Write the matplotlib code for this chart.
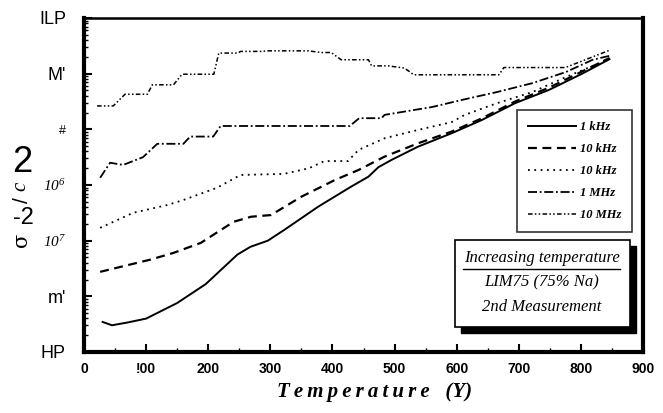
import matplotlib
matplotlib.use("Agg")
import matplotlib.pyplot as plt
import numpy as np
from matplotlib.patches import Rectangle
from matplotlib.lines import Line2D

plt.rcParams["mathtext.fontset"] = "custom"
plt.rcParams["mathtext.it"] = "Liberation Serif:italic"
plt.rcParams["mathtext.rm"] = "Liberation Serif:italic"

# temperature (x) and log10 of sigma^-2/c^2
t_1khz = [30, 45, 70, 100, 150, 196, 247, 268, 296, 322, 377, 430, 458, 474,
          495, 538, 592, 641, 694, 749, 802, 846]
e_1khz = [-8.46, -8.52, -8.47, -8.40, -8.12, -7.78, -7.25, -7.11, -7.00, -6.81,
          -6.39, -6.03, -5.85, -5.68, -5.55, -5.31, -5.07, -4.83, -4.53, -4.29,
          -4.00, -3.74]

t_10khz = [26, 107, 144, 188, 241, 269, 301, 350, 404, 442, 484, 538, 592, 641,
           694, 749, 802, 846]
e_10khz = [-7.56, -7.34, -7.22, -7.04, -6.66, -6.57, -6.54, -6.21, -5.91, -5.73,
           -5.49, -5.25, -5.04, -4.80, -4.50, -4.25, -3.96, -3.72]

t_100khz = [26, 79, 134, 160, 214, 252, 322, 362, 387, 425, 442, 484, 538, 592,
            613, 665, 722, 776, 830, 846]
e_100khz = [-6.77, -6.50, -6.36, -6.27, -6.05, -5.82, -5.80, -5.70, -5.57, -5.57,
            -5.37, -5.16, -5.01, -4.87, -4.74, -4.53, -4.33, -4.06, -3.81, -3.72]

t_1mhz = [26, 42, 63, 95, 118, 160, 171, 208, 220, 428, 443, 479, 484, 560, 613,
          665, 722, 776, 819, 846]
e_1mhz = [-5.87, -5.60, -5.64, -5.50, -5.26, -5.26, -5.13, -5.13, -4.94, -4.94,
          -4.80, -4.80, -4.74, -4.60, -4.46, -4.33, -4.17, -3.97, -3.75, -3.68]

t_10mhz = [21, 47, 66, 102, 110, 144, 158, 209, 217, 248, 252, 285, 296, 361,
           382, 398, 414, 458, 463, 490, 516, 531, 668, 676, 775, 846]
e_10mhz = [-4.58, -4.58, -4.37, -4.37, -4.20, -4.20, -4.01, -4.01, -3.63, -3.63,
           -3.60, -3.60, -3.59, -3.59, -3.62, -3.62, -3.75, -3.75, -3.86, -3.86,
           -3.90, -4.02, -4.02, -3.89, -3.89, -3.58]

labels = ["1 kHz", "10 kHz", "10 kHz", "1 MHz", "10 MHz"]
ytick_vals = [1e-9, 1e-8, 1e-7, 1e-6, 1e-5, 1e-4, 1e-3]
ytick_text = ["HP", "m'", "$10^{7}$", "$10^{6}$", "#", "M'", "ILP"]
xtick_vals = [0, 100, 200, 300, 400, 500, 600, 700, 800, 900]
xtick_text = ["0", "!00", "200", "300", "400", "500", "600", "700", "800", "900"]

fig = plt.figure(figsize=(6.63, 4.13), dpi=100)
ax = fig.add_axes([84 / 663, 61 / 413, 559 / 663, 334 / 413])

series = [
    (t_1khz, e_1khz, "-", 1.4),
    (t_10khz, e_10khz, (0, (4, 2.5)), 1.6),
    (t_100khz, e_100khz, (0, (1, 2.5)), 1.3),
    (t_1mhz, e_1mhz, (0, (5, 1.5, 1, 1.5)), 1.3),
    (t_10mhz, e_10mhz, (0, (3, 1.5, 1, 1.5, 1, 1.5)), 1.1),
]
for (t, e, ls, lw), lab in zip(series, labels):
    ax.plot(t, 10.0 ** np.array(e), color="black", linestyle=ls, linewidth=lw,
            label=lab)

ax.set_yscale("log")
ax.set_xlim(0, 900)
ax.set_ylim(1e-9, 1e-3)

ax.set_xticks(xtick_vals)
ax.set_xticklabels(xtick_text, fontfamily="Liberation Sans", fontweight="bold",
                   fontsize=10)
ax.set_xticks(np.arange(50, 900, 100), minor=True)
ax.set_yticks(ytick_vals)
ax.set_yticklabels(ytick_text)
ax.yaxis.set_minor_locator(matplotlib.ticker.LogLocator(base=10, subs=np.arange(2, 10)))
ax.yaxis.set_minor_formatter(matplotlib.ticker.NullFormatter())

for lbl in ax.get_yticklabels():
    txt = lbl.get_text()
    if "10" in txt:
        lbl.set_fontsize(11)
    elif txt == "#":
        lbl.set_fontfamily("Liberation Sans")
        lbl.set_fontsize(9)
    else:
        lbl.set_fontfamily("Liberation Sans")
        lbl.set_fontsize(13)

ax.tick_params(axis="both", which="major", direction="in", length=6, width=1.5,
               color="black")
ax.tick_params(axis="both", which="minor", direction="in", length=3, width=1)
ax.tick_params(axis="x", pad=7)
ax.tick_params(axis="y", pad=13)

ax.spines["left"].set_linewidth(3)
ax.spines["bottom"].set_linewidth(3)
ax.spines["right"].set_linewidth(3)
ax.spines["top"].set_linewidth(1.8)

# x label with the wide letter spacing of the scan
fig.text(375 / 663, 1 - 392 / 413, "\u2009".join("Temperature") + "   (Y)",
         fontfamily="Liberation Serif", fontweight="bold", fontstyle="italic",
         fontsize=15, ha="center", va="center")

# garbled y-axis label pieces as they appear in the scan
fig.text(22 / 663, 1 - 162 / 413, "2", fontsize=26, ha="center", va="center",
         fontfamily="Liberation Sans")
fig.text(21 / 663, 1 - 186 / 413, "c", fontsize=15, rotation=90, ha="center",
         va="center", fontfamily="Liberation Serif", fontstyle="italic")
fig.text(22 / 663, 1 - 200 / 413, "/", fontsize=15, rotation=90, ha="center",
         va="center", fontfamily="Liberation Sans")
fig.text(23 / 663, 1 - 218 / 413, "-2", fontsize=17, ha="center", va="center",
         fontfamily="Liberation Sans")
fig.text(22 / 663, 1 - 240 / 413, "σ", fontsize=15, rotation=90, ha="center",
         va="center", fontfamily="DejaVu Serif")

leg = ax.legend(loc="upper left", bbox_to_anchor=(0.775, 0.725), frameon=True,
                fancybox=False, edgecolor="black", handlelength=3.8,
                labelspacing=0.8, borderpad=0.9, handletextpad=0.3,
                borderaxespad=0,
                prop={"family": "Liberation Serif", "weight": "bold",
                      "style": "italic", "size": 9})
leg.get_frame().set_linewidth(1.2)

# annotation box with drop shadow
x0, x1, y0, y1 = 0.664, 0.977, 0.075, 0.335
ax.add_patch(Rectangle((x0 + 0.011, y0 - 0.018), x1 - x0, y1 - y0,
                       transform=ax.transAxes, facecolor="black",
                       edgecolor="black", zorder=5, clip_on=False))
ax.add_patch(Rectangle((x0, y0), x1 - x0, y1 - y0, transform=ax.transAxes,
                       facecolor="white", edgecolor="black", linewidth=1.2,
                       zorder=6, clip_on=False))
box_font = {"family": "Liberation Serif", "style": "italic", "size": 12}
ax.text(0.819, 0.281, "Increasing temperature", transform=ax.transAxes,
        ha="center", va="center", zorder=7, **box_font)
ax.add_line(Line2D([0.678, 0.959], [0.250, 0.250], transform=ax.transAxes,
                   color="black", linewidth=1, zorder=7))
ax.text(0.819, 0.207, "LIM75 (75% Na)", transform=ax.transAxes,
        ha="center", va="center", zorder=7, **box_font)
ax.text(0.819, 0.135, "2nd Measurement", transform=ax.transAxes,
        ha="center", va="center", zorder=7, **box_font)

fig.savefig("out.png", dpi=100)
plt.close(fig)
